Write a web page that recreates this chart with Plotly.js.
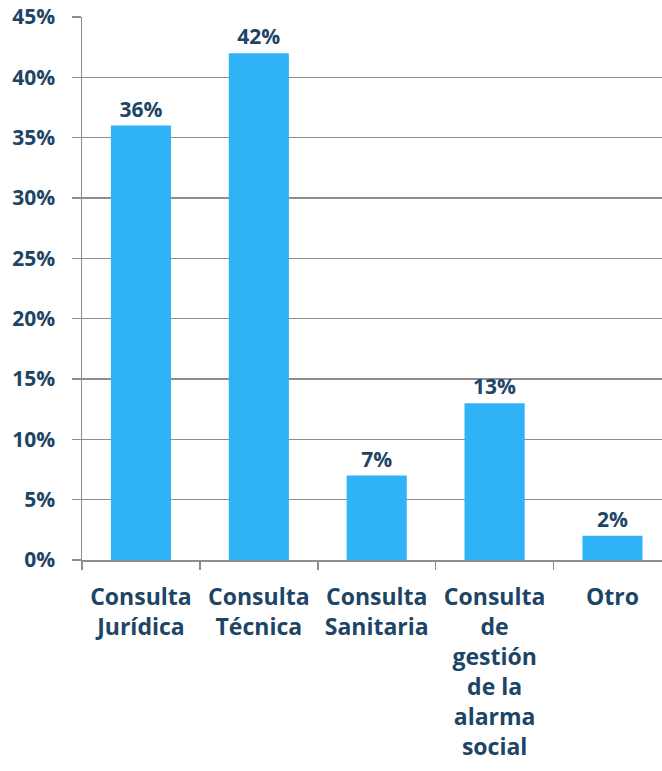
<!DOCTYPE html>
<html>
<head>
<meta charset="utf-8">
<script src="https://cdn.plot.ly/plotly-3.0.1.min.js"></script>
<style>html,body{margin:0;padding:0;background:#fff;}#chart{width:662px;height:771px;}</style>
</head>
<body>
<div id="chart"></div>
<script>
const categories = ["Consulta<br>Jurídica", "Consulta<br>Técnica", "Consulta<br>Sanitaria", "Consulta<br>de<br>gestión<br>de la<br>alarma<br>social", "Otro"];
const values = [36, 42, 7, 13, 2];
const yTickVals = [0, 5, 10, 15, 20, 25, 30, 35, 40, 45];

const textColor = "#1d4566";
const gridColor = "#8e8e8e";
const fontFam = "'Open Sans', sans-serif";

const trace = {
  type: "bar",
  x: categories,
  y: values,
  marker: {color: "#2fb2f6"},
  texttemplate: "%{y}%",
  textposition: "outside",
  cliponaxis: false,
  textfont: {family: fontFam, size: 21, color: textColor, weight: 700},
  hoverinfo: "none"
};

const layout = {
  width: 662,
  height: 771,
  margin: {l: 82, r: 0, t: 17, b: 211},
  paper_bgcolor: "#ffffff",
  plot_bgcolor: "#ffffff",
  showlegend: false,
  bargap: 0.49,
  font: {family: fontFam, color: textColor},
  xaxis: {
    type: "category",
    range: [-0.5, 4.42],
    showline: true,
    linecolor: gridColor,
    linewidth: 1.5,
    ticks: "outside",
    tickson: "boundaries",
    ticklen: 8,
    tickcolor: gridColor,
    tickwidth: 1.5,
    ticklabelstandoff: 16,
    tickfont: {family: fontFam, size: 23, color: textColor, weight: 700},
    showgrid: false,
    fixedrange: true
  },
  yaxis: {
    range: [0, 45],
    tickvals: yTickVals,
    ticktext: yTickVals.map(v => v + "%"),
    showline: true,
    linecolor: gridColor,
    linewidth: 1.5,
    ticks: "outside",
    ticklen: 9,
    tickcolor: gridColor,
    tickwidth: 1.5,
    showgrid: true,
    gridcolor: gridColor,
    gridwidth: 1.5,
    zeroline: false,
    ticklabelstandoff: 12,
    tickfont: {family: fontFam, size: 21, color: textColor, weight: 700},
    fixedrange: true
  }
};

Plotly.newPlot("chart", [trace], layout, {displayModeBar: false, staticPlot: true});
</script>
</body>
</html>
